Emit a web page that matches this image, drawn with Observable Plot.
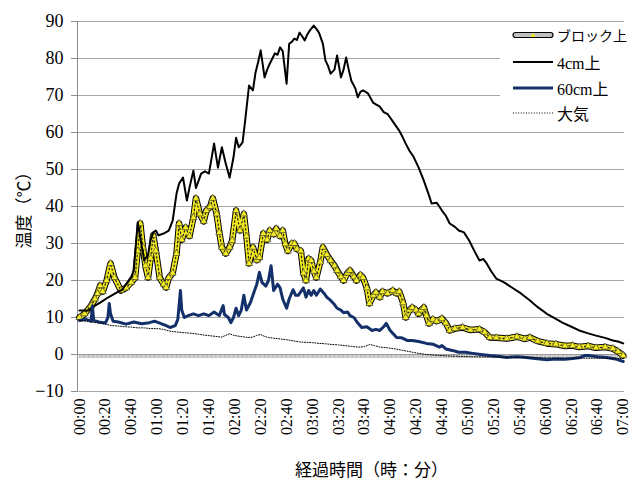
<!DOCTYPE html>
<html>
<head>
<meta charset="utf-8">
<script src="https://cdn.jsdelivr.net/npm/d3@7"></script>
<script src="https://cdn.jsdelivr.net/npm/@observablehq/plot@0.6"></script>
<style>
  body { margin: 0; background: #fff; }
  #wrap { position: relative; width: 632px; height: 483px; overflow: hidden; }
  #wrap svg { overflow: visible; }
  #wrap svg text { font-family: "Liberation Serif", "DejaVu Serif", serif !important; }
  .lbl { position: absolute; font-family: "Noto Sans CJK JP", sans-serif; font-size: 17px; color: #000; white-space: nowrap; }
  #legend { position: absolute; left: 500px; top: 22px; width: 132px; height: 104px; background: #fff; }
  .li { position: absolute; left: 12px; height: 20px; display: flex; align-items: center; white-space: nowrap; font-family: "Liberation Serif", "Noto Sans CJK JP", serif; font-size: 16px; }
  .li svg { margin-right: 3px; flex: none; }
</style>
</head>
<body>
<div id="wrap"></div>
<script>
// ---- data (minutes from start, °C) ----
const seriesNames = ["ブロック上", "4cm上", "60cm上", "大気"];
const xTickMinutes = [0,20,40,60,80,100,120,140,160,180,200,220,240,260,280,300,320,340,360,380,400,420];
const yTickValues = [-10,0,10,20,30,40,50,60,70,80,90];

const blockT = [0,4,9,12,14,16,18,21,24,27,32,36,40,43,45,47,49,51,53,55,57,59,62,65,67,69,72,75,77,79,82,85,88,90,93,96,98,101,103,106,108,110,113,116,118,121,124,127,129,131,134,137,139,142,145,147,150,152,155,157,159,161,164,166,168,171,173,175,177,179,181,183,186,188,191,194,197,199,202,204,207,209,212,214,217,219,222,224,227,229,232,234,238,242,245,247,250,252,255,257,260,262,264,266,268,270,273,276,280,283,286,290,296,302,309,313,317,322,330,338,344,348,354,361,368,375,381,386,393,399,406,412,416,420];
const blockV = [10,11,13.2,15,16.5,18.6,17,20,24.6,20.8,17.3,18,19.5,20.8,28,35.4,29,24,20.8,26,32.2,28,20.8,19,18.1,20.8,22,27.3,35.4,31,34.3,32,37,42.2,38,36,38.9,40,42.2,38,33,29,27.3,29,30.8,38.9,33.5,38,32,24.6,29,25.5,26.2,32.7,31,33.5,32.5,34,32,33.5,29.9,28,30,30,28.5,28,22,20,25.9,25.4,22.5,20.8,25,29,27,25.4,24,22.7,21,20,22,22.7,21,20,21.5,20.8,18,13.8,16,16.8,15.5,17,16.5,17.3,16.5,17,14,10,12,12.7,12,11,12,12.7,10.5,8.4,9.5,9,9.7,8.5,6.5,7,7.3,6.6,6.8,6,4.6,4.5,4.3,4.8,4.2,4.6,3.6,3,2.8,2.3,2.4,2,2.3,1.8,2,1.6,0.8,-0.3];

const c4T = [0,7,12,16,22,26,29,33,37,40,42,45,47,50,53,55,57,59,61,65,69,72,75,77,80,83,85,88,90,94,97,100,104,107,110,113,116,119,121,123,126,128,131,134,136,138,140,143,145,147,149,151,153,155,157,160,162,164,166,168,170,172,174,176,178,181,183,185,188,190,192,194,197,199,202,204,206,208,210,213,215,217,219,221,223,227,232,235,238,242,247,250,252,255,258,262,266,270,272,276,280,283,286,290,293,297,301,305,309,312,314,318,322,328,334,341,348,354,361,367,373,380,386,393,399,406,412,416,420];
const c4V = [11.9,11.9,13.2,14,15.4,16.2,16.8,17.5,19.5,21,22.7,35.7,31.6,25.4,27,31,33,33.5,32.2,32.7,33.5,36.2,43.5,46.2,47.8,41.6,45.1,49.7,45,48.9,49.5,48.9,57,50.5,56,51.6,47.8,53.3,58.6,56,57.3,63.2,72.7,71.4,76.2,79,82.2,74.9,77,78.6,80,81.4,81,83,82,73.2,84,84.5,85.4,85,87,86,84.9,86.5,87.6,88.9,88,87,84,79.5,78,75.9,77,80.8,74.9,77,80.3,77,74,72,69.5,71,71.4,71,70.5,68,67,65.5,65,63,60.5,58.5,57,55,53.5,50.5,47,43,40.8,41,38.9,37.5,35.4,34.5,33.5,33,30.8,28,25.4,25.8,24.9,22.5,20.5,19.5,18.1,16.5,14.6,12.8,11,9.8,8.6,7.5,6.5,5.7,5.1,4.5,3.8,3.5,3];

const c60T = [0,5,9,10,11,15,20,22,23,24,26,30,36,42,48,54,58,62,67,70,74,76,78,79,81,84,88,92,96,100,104,108,111,112,115,117,119,121,123,125,127,129,132,135,137,139,141,144,146,148,150,153,155,157,160,162,165,167,169,171,173,175,177,179,181,183,186,189,191,194,197,199,202,204,207,209,212,215,218,222,226,229,232,235,237,240,245,249,253,257,262,268,273,278,280,283,288,293,298,304,310,317,323,330,338,345,352,361,368,375,381,387,390,394,400,407,414,420];
const c60V = [9.2,9.5,9,13.2,9.2,8.8,8.5,10,13.8,11,9,8.8,8.2,8.8,8.3,8.6,9,8.5,7.8,7.3,7.8,9.5,17.3,12,10,10.5,11,10.5,11,10.5,11.5,10.5,13.2,10.8,10,8.6,10,12.5,10.5,12,16,12,14,17,19,22.2,19.5,18.5,20,24,17.3,19,18,15,12.5,15,17.5,16,16,17,18,15.5,17.3,16,17.3,16,17.7,16.5,15.5,14.6,13.5,12.5,12,11.3,11.5,10.5,10,8.5,7.3,7.5,6.5,6.8,6.5,7.5,8.4,6.5,4.6,4.5,3.8,3.8,3.5,3,2.8,2,2.4,1.5,1.1,0.6,0.6,0.3,0,-0.3,-0.5,-0.8,-0.6,-0.8,-1.1,-1.4,-1.2,-1.3,-1.1,-0.8,-0.3,-0.3,-0.6,-0.8,-1.2,-1.9];

const airT = [0,5,10,15,20,25,30,35,40,45,50,55,60,65,70,75,80,85,90,95,100,105,110,113,116,119,122,126,130,134,137,140,143,146,150,155,160,165,170,175,180,185,190,195,200,205,210,215,220,224,228,232,238,244,250,256,262,268,275,285,300,320,340,360,380,400,420];
const airV = [9.2,9.0,8.7,8.5,8.2,7.8,7.7,7.5,7.4,7.2,7.2,7.0,7.0,6.8,6.3,6.1,5.9,5.8,5.6,5.3,5.1,4.9,4.7,5.2,5.6,5.2,5.0,4.8,4.6,4.7,5.2,5.4,4.9,4.6,4.4,4.2,4.0,3.7,3.4,3.3,3.2,3.0,2.9,2.7,2.6,2.4,2.2,2.0,2.1,2.7,2.4,2.0,1.8,1.5,1.1,0.7,0.3,0.0,-0.2,-0.4,-0.6,-0.7,-0.8,-0.9,-1.0,-1.0,-1.1];

const zip = (T, V) => T.map((t, i) => ({t, v: V[i]}));
const block = zip(blockT, blockV);
const c4 = zip(c4T, c4V);
const c60 = zip(c60T, c60V);
const air = zip(airT, airV);
const minuteTicks = d3.range(0, 421);

const fmt = m => String(Math.floor(m / 60)).padStart(2, "0") + ":" + String(m % 60).padStart(2, "0");
const gridCol = "#a6a6a6";

const chart = Plot.plot({
  width: 632,
  height: 483,
  marginLeft: 77,
  marginRight: 8,
  marginTop: 21,
  marginBottom: 92,
  x: {domain: [-1.5, 421]},
  y: {domain: [-10, 90]},
  style: {fontSize: "17px", color: "#000", background: "#fff"},
  marks: [
    Plot.ruleY(yTickValues, {stroke: gridCol, strokeWidth: 1}),
    Plot.ruleX([-1.5], {y1: -10, y2: 90, stroke: "#8c8c8c"}),
    Plot.ruleX(minuteTicks, {y1: 0, y2: -1.1, stroke: "#8c8c8c", strokeWidth: 0.6}),
    Plot.axisY({ticks: yTickValues, tickSize: 6, tickPadding: 8, stroke: "#8c8c8c", label: null, fontSize: 18}),
    Plot.axisX({ticks: xTickMinutes, tickFormat: fmt, tickRotate: -90, tickSize: 0, tickPadding: 7, label: null, fontSize: 16}),
    // ブロック上: black line with overlapping yellow triangle markers
    Plot.line(block, {x: "t", y: "v", stroke: "#000", strokeWidth: 6.5}),
    Plot.line(block, {x: "t", y: "v", stroke: "#f2ea1c", strokeWidth: 4.5}),
    Plot.line(block, {x: "t", y: "v", stroke: "#222", strokeWidth: 1.2, strokeDasharray: "1.5,2.5"}),
    Plot.dot(block, {x: "t", y: "v", symbol: "triangle", r: 2.6, fill: "#f7ef22", stroke: "#333", strokeWidth: 0.6}),
    // 4cm上
    Plot.line(c4, {x: "t", y: "v", stroke: "#000", strokeWidth: 2}),
    // 60cm上
    Plot.line(c60, {x: "t", y: "v", stroke: "#14306a", strokeWidth: 3}),
    // 大気
    Plot.line(air, {x: "t", y: "v", stroke: "#000", strokeWidth: 1, strokeDasharray: "1,1.6"})
  ]
});

const wrap = document.getElementById("wrap");
wrap.appendChild(chart);

// y label
const yl = document.createElement("div");
yl.className = "lbl";
yl.textContent = "温度（℃）";
yl.style.left = "22px";
yl.style.top = "206px";
yl.style.transform = "translate(-50%,-50%) rotate(-90deg)";
wrap.appendChild(yl);

// x label
const xl = document.createElement("div");
xl.className = "lbl";
xl.textContent = "経過時間（時：分）";
xl.style.left = "295px";
xl.style.top = "456px";
wrap.appendChild(xl);

// legend
const lg = document.createElement("div");
lg.id = "legend";
const sym = [
  `<svg width="42" height="12"><rect x="1" y="3.5" width="40" height="5" rx="2.5" fill="#c0c0c0" stroke="#000" stroke-width="1.2"/><path d="M21,3.5 L23.5,8 L18.5,8 Z" fill="#f2ea1c"/></svg>`,
  `<svg width="42" height="12"><line x1="1" y1="6" x2="41" y2="6" stroke="#000" stroke-width="2"/></svg>`,
  `<svg width="42" height="12"><line x1="1" y1="6" x2="41" y2="6" stroke="#14306a" stroke-width="3"/></svg>`,
  `<svg width="42" height="12"><line x1="1" y1="6" x2="41" y2="6" stroke="#000" stroke-width="1" stroke-dasharray="1,1.6"/></svg>`
];
const tops = [3, 30, 56, 81];
const sizes = [14, 16, 16, 16];
seriesNames.forEach((n, i) => {
  const d = document.createElement("div");
  d.className = "li";
  d.style.top = tops[i] + "px";
  d.style.fontSize = sizes[i] + "px";
  d.innerHTML = sym[i] + `<span>${n}</span>`;
  lg.appendChild(d);
});
wrap.appendChild(lg);
</script>
</body>
</html>
